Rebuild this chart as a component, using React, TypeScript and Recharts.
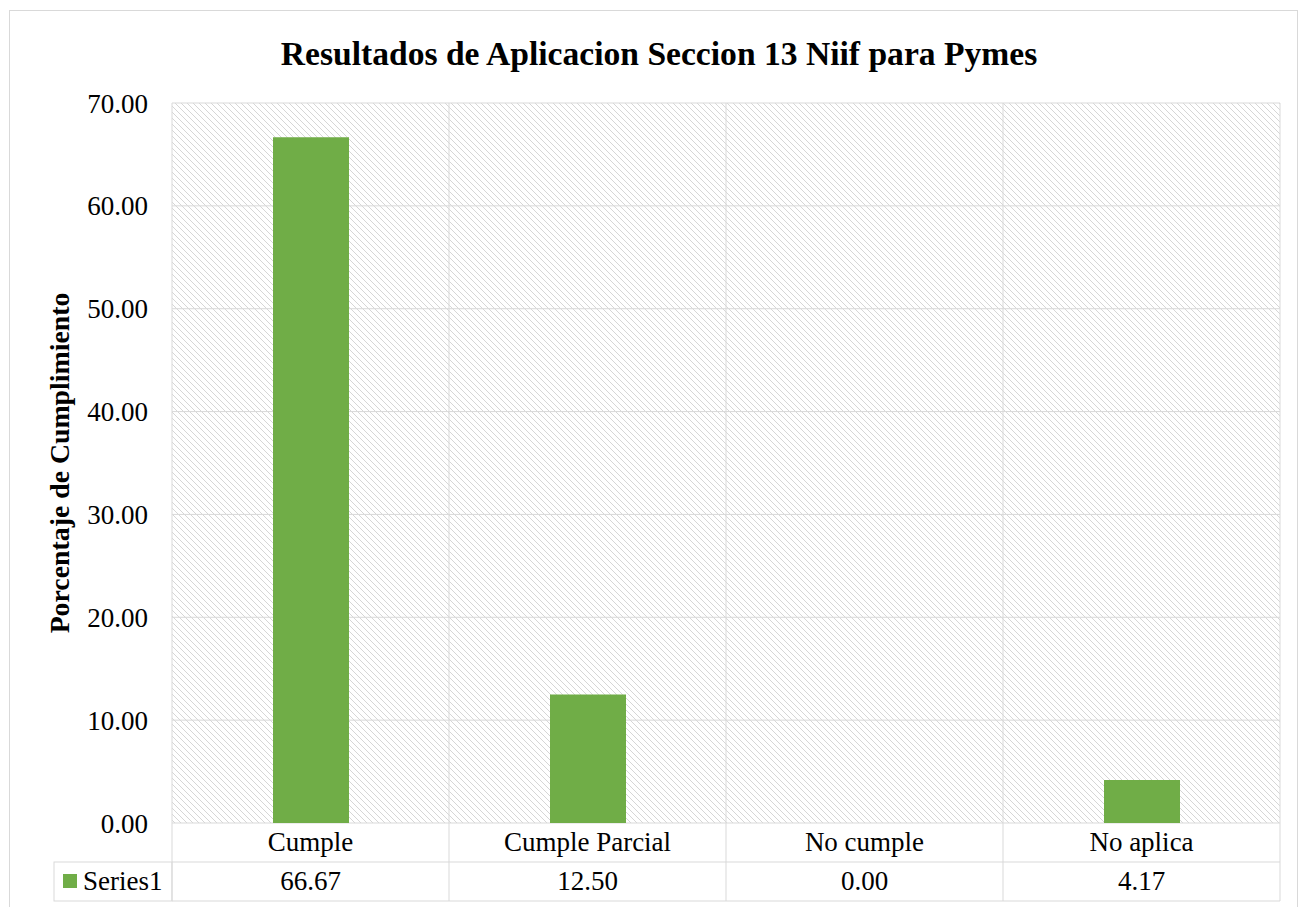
import React from 'react';
import { BarChart, Bar, XAxis, YAxis, CartesianGrid } from 'recharts';

const categories = ['Cumple', 'Cumple Parcial', 'No cumple', 'No aplica'];
const series1 = [66.67, 12.5, 0.0, 4.17];
const yTicks = [0, 10, 20, 30, 40, 50, 60, 70];

const data = categories.map((name, i) => ({ name, value: series1[i] }));

const FONT = '"Liberation Serif", "Times New Roman", serif';
const GRID = '#d9d9d9';
const GREEN = '#70ad47';

// plot box
const PLOT_LEFT = 172;
const PLOT_RIGHT = 1280;
const PLOT_TOP = 103;
const PLOT_BOTTOM = 823;
const W = 1307;
const H = 907;
const Y_AXIS_W = 60;
const ROW_H = 39;
const BAND = (PLOT_RIGHT - PLOT_LEFT) / categories.length;

const TableTick = ({ x, y, payload }: any) => {
  const i = payload.index;
  const left = x - BAND / 2;
  const right = x + BAND / 2;
  const top = y - (PLOT_BOTTOM - PLOT_TOP);
  return (
    <g>
      <line x1={left} x2={left} y1={top} y2={y + ROW_H * 2} stroke={GRID} />
      {i === categories.length - 1 && (
        <line x1={right} x2={right} y1={top} y2={y + ROW_H * 2} stroke={GRID} />
      )}
      <line x1={left} x2={right} y1={y + ROW_H} y2={y + ROW_H} stroke={GRID} />
      <line x1={left} x2={right} y1={y + ROW_H * 2} y2={y + ROW_H * 2} stroke={GRID} />
      <text x={x} y={y + 28} textAnchor="middle" fontFamily={FONT} fontSize={27} fill="#000">
        {payload.value}
      </text>
      <text x={x} y={y + ROW_H + 28} textAnchor="middle" fontFamily={FONT} fontSize={27} fill="#000">
        {series1[i].toFixed(2)}
      </text>
      {i === 0 && (
        <g>
          <rect x={left - 118} y={y + ROW_H} width={118} height={ROW_H} fill="none" stroke={GRID} />
          <rect x={left - 109} y={y + ROW_H + 12} width={14} height={14} fill={GREEN} />
          <text x={left - 89} y={y + ROW_H + 28} fontFamily={FONT} fontSize={27} fill="#000">
            Series1
          </text>
        </g>
      )}
    </g>
  );
};

export default function App() {
  return (
    <div style={{ position: 'absolute', left: 0, top: 0, width: W, height: H, background: '#fff' }}>
      <svg width={0} height={0} style={{ position: 'absolute' }}>
        <defs>
          <pattern id="hatch" patternUnits="userSpaceOnUse" width={6} height={6}>
            <rect width={6} height={6} fill="#fff" />
            <path d="M0,0 L6,6 M-1,5 L1,7 M5,-1 L7,1" stroke="#d6d6d6" strokeWidth={1} />
          </pattern>
        </defs>
      </svg>
      <div
        style={{
          position: 'absolute', left: 9, top: 10, width: 1287, height: 896,
          border: `1px solid ${GRID}`,
        }}
      />
      <div
        style={{
          position: 'absolute', left: 0, top: 35, width: 1318, textAlign: 'center',
          fontFamily: FONT, fontWeight: 'bold', fontSize: 33.6, color: '#000',
        }}
      >
        Resultados de Aplicacion Seccion 13 Niif para Pymes
      </div>
      <svg style={{ position: 'absolute', left: 0, top: 0 }} width={120} height={H}>
        <text
          transform="translate(69,463) rotate(-90)"
          textAnchor="middle"
          fontFamily={FONT}
          fontWeight="bold"
          fontSize={27.8}
          fill="#000"
        >
          Porcentaje de Cumplimiento
        </text>
      </svg>
      <div style={{ position: 'absolute', left: 0, top: 0 }}>
        <BarChart
          width={W}
          height={H}
          data={data}
          margin={{ left: PLOT_LEFT - Y_AXIS_W, right: W - PLOT_RIGHT, top: PLOT_TOP, bottom: 0 }}
        >
          <CartesianGrid vertical={false} stroke={GRID} fill="url(#hatch)" fillOpacity={1} />
          <XAxis
            dataKey="name"
            height={H - PLOT_BOTTOM}
            axisLine={false}
            tickLine={false}
            tickSize={0}
            tickMargin={0}
            interval={0}
            tick={<TableTick />}
          />
          <YAxis
            width={Y_AXIS_W}
            domain={[0, 70]}
            ticks={yTicks}
            axisLine={false}
            tickLine={false}
            tickSize={0}
            tickMargin={24}
            tickFormatter={(v: number) => v.toFixed(2)}
            tick={{ fill: '#000', fontSize: 27, fontFamily: FONT }}
          />
          <Bar dataKey="value" fill={GREEN} barSize={76} isAnimationActive={false} />
        </BarChart>
      </div>
    </div>
  );
}
